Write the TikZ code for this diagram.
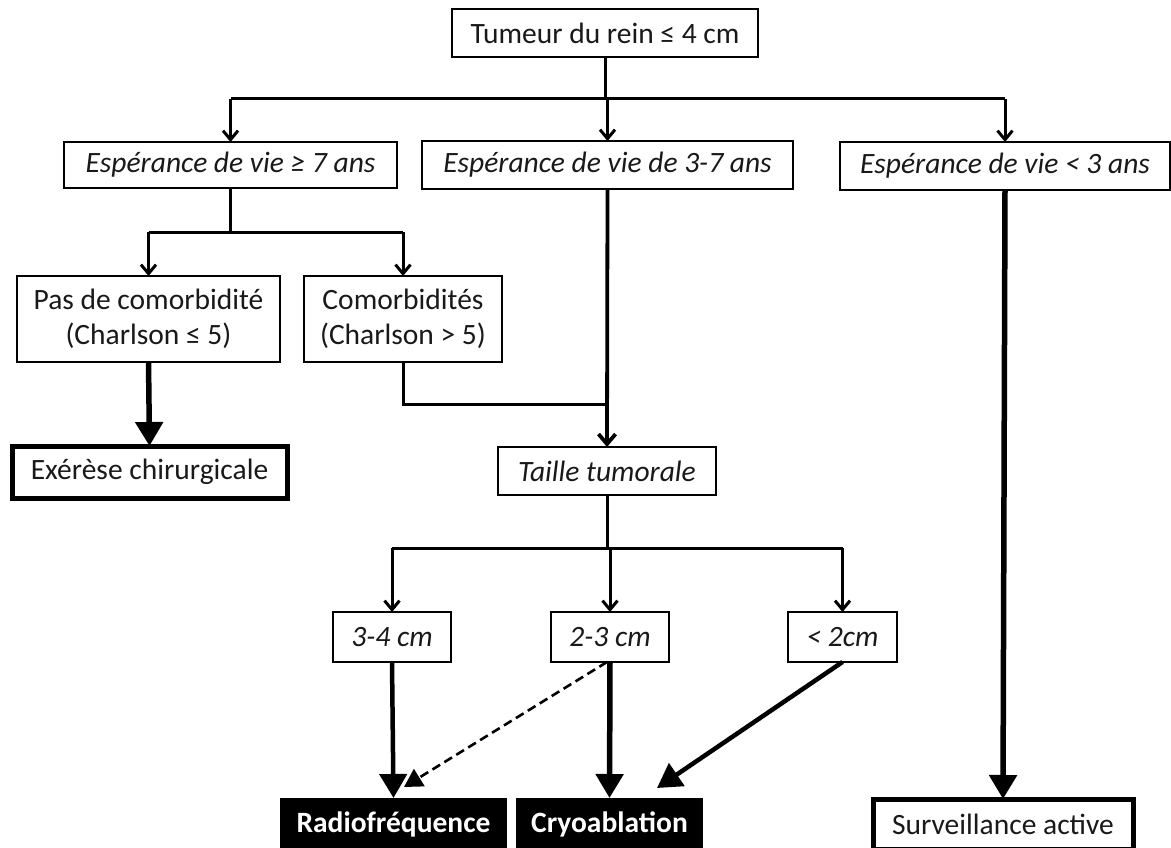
\documentclass[tikz,border=0pt]{standalone}
\usepackage{fontspec}
\setmainfont{Carlito}
\usetikzlibrary{arrows.meta,calc}
\begin{document}
\begin{tikzpicture}[x=1pt,y=-1pt,
  every node/.style={font=\fontsize{29.5}{35}\selectfont, inner sep=0pt, outer sep=0pt, text=black!90},
  box/.style={draw, line width=1.7pt, align=center},
  ibox/.style={box, font=\fontsize{29.5}{35}\selectfont\itshape},
  tbox/.style={draw, line width=5pt, align=center},
  bbox/.style={fill=black, text=white, font=\fontsize{29.5}{35}\selectfont\bfseries},
  thin/.style={line width=3pt, -{Straight Barb[length=9pt,width=15pt,line width=3pt]}},
  plain/.style={line width=3pt},
  thick/.style={line width=5.5pt, -{Triangle[length=24pt,width=27pt]}},
  mid/.style={line width=4.5pt, -{Triangle[length=24pt,width=27pt]}},
  dsh/.style={line width=2.6pt, dash pattern=on 9pt off 5pt, -{Triangle[length=18pt,width=20pt]}}
]
\useasboundingbox (0,0) rectangle (1171,848);

\node[box, minimum width=306pt, minimum height=48pt] (top) at (605,33) {Tumeur du rein ≤ 4 cm};
\node[ibox, minimum width=333pt, minimum height=46pt] (A) at (230.5,165) {Espérance de vie ≥ 7 ans};
\node[ibox, minimum width=371pt, minimum height=48pt] (B) at (607.5,165) {Espérance de vie de 3-7 ans};
\node[ibox, minimum width=330pt, minimum height=48pt] (C) at (1005,166) {Espérance de vie < 3 ans};
\node[box, minimum width=263pt, minimum height=86pt] (pas) at (148.5,319) {Pas de comorbidité\\(Charlson ≤ 5)};
\node[box, minimum width=198pt, minimum height=86pt] (com) at (403,319) {Comorbidités\\(Charlson > 5)};
\node[tbox, minimum width=275pt, minimum height=52pt] (exe) at (149.5,472) {Exérèse chirurgicale};
\node[ibox, minimum width=218pt, minimum height=48pt] (tai) at (607,471) {Taille tumorale};
\node[ibox, minimum width=118pt, minimum height=50pt] (s34) at (392,637) {3-4 cm};
\node[ibox, minimum width=118pt, minimum height=50pt] (s23) at (610,637) {2-3 cm};
\node[ibox, minimum width=109pt, minimum height=50pt] (s2) at (842.5,637) {< 2cm};
\node[bbox, minimum width=227pt, minimum height=52pt] (rad) at (393.5,824) {Radiofréquence};
\node[bbox, minimum width=187pt, minimum height=52pt] (cry) at (609.5,824) {Cryoablation};
\node[tbox, minimum width=260pt, minimum height=50pt] (sur) at (1003,824) {Surveillance active};

\coordinate (h1) at (0,99);
\coordinate (h2) at (0,232);
\coordinate (h3) at (0,404);
\coordinate (h4) at (0,548);
\coordinate (cryin) at (657,788);
\coordinate (radin) at (404,787);

% top split
\draw[plain] (top.south) -- (top.south |- h1);
\draw[plain] (A.north |- h1) -- (C.north |- h1);
\draw[thin] (A.north |- h1) -- (A.north);
\draw[thin] (B.north |- h1) -- (B.north);
\draw[thin] (C.north |- h1) -- (C.north);

% A split
\draw[plain] (A.south) -- (A.south |- h2);
\draw[plain] (pas.north |- h2) -- (com.north |- h2);
\draw[thin] (pas.north |- h2) -- (pas.north);
\draw[thin] (com.north |- h2) -- (com.north);

\draw[thick] (pas.south) -- (exe.north);

% to Taille
\draw[plain] (com.south) -- (com.south |- h3) -- (B.south |- h3);
\draw[line width=3.8pt, -{Straight Barb[length=10pt,width=17pt,line width=3.8pt]}] (B.south) -- (tai.north);

% Taille split
\draw[plain] (tai.south) -- (tai.south |- h4);
\draw[plain] (s34.north |- h4) -- (s2.north |- h4);
\draw[thin] (s34.north |- h4) -- (s34.north);
\draw[thin] (s23.north |- h4) -- (s23.north);
\draw[thin] (s2.north |- h4) -- (s2.north);

% to treatments
\draw[mid] (s34.south) -- (rad.north);
\draw[thick] (s23.south) -- (cry.north);
\draw[dsh] ([xshift=-3pt]s23.south) -- (radin);
\draw[mid] (s2.south) -- (cryin);
\draw[thick] (C.south) -- (sur.north);
\end{tikzpicture}
\end{document}
